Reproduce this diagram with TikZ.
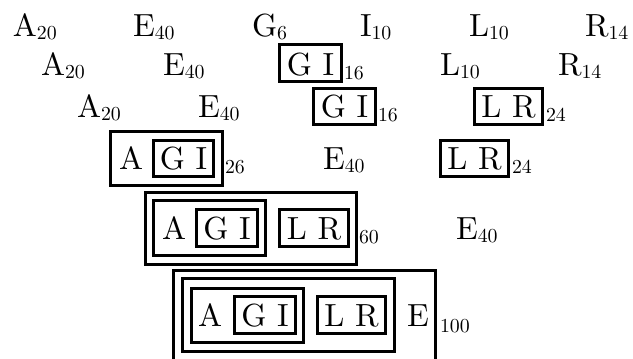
\documentclass[tikz,border=0pt]{standalone}
\usepackage{graphicx}
\newcommand\wsub[1]{\raisebox{-1.1pt}{\scalebox{0.62}{#1}}}
\tikzset{
  leaf/.style = {anchor=base west, inner sep=0pt, outer sep=0pt},
  pair/.style = {anchor=base, inner sep=0pt, outer sep=0pt},
  wt/.style = {anchor=base west, inner sep=0pt, outer sep=0pt},
  grp/.style = {line width=0.8pt}
}
\begin{document}
\begin{tikzpicture}[x=0.3125pt, y=-0.3125pt]
	\useasboundingbox (0,0) rectangle (633,358);
	\clip (0,0) rectangle (633,358);

	% Row 1
	\node[leaf] (a1) at (13,36) {A\wsub{20}};
	\node[leaf] (e1) at (133,36) {E\wsub{40}};
	\node[leaf] (g1) at (252,36) {G\wsub{6}};
	\node[leaf] (i1) at (360,36) {I\wsub{10}};
	\node[leaf] (l1) at (469,36) {L\wsub{10}};
	\node[leaf] (r1) at (585,36) {R\wsub{14}};

	% Row 2
	\node[leaf] (a2) at (41,75) {A\wsub{20}};
	\node[leaf] (e2) at (163,75) {E\wsub{40}};
	\draw[grp] (279.25,44.25) rectangle (341.75,81.75); % G I
	\node[pair] (gi2) at (310.5,75) {G I};
	\node[wt] (gi2w) at (344,76) {\wsub{16}};
	\node[leaf] (l2) at (440,75) {L\wsub{10}};
	\node[leaf] (r2) at (558,75) {R\wsub{14}};

	% Row 3
	\node[leaf] (a3) at (77,117) {A\wsub{20}};
	\node[leaf] (e3) at (198,117) {E\wsub{40}};
	\draw[grp] (313.25,88.25) rectangle (375.75,124.75); % G I
	\node[pair] (gi3) at (344.5,117) {G I};
	\node[wt] (gi3w) at (378,118) {\wsub{16}};
	\draw[grp] (474.25,88.25) rectangle (542.75,124.75); % L R
	\node[pair] (lr3) at (508.5,117) {L R};
	\node[wt] (lr3w) at (546,118) {\wsub{24}};

	% Row 4
	\draw[grp] (110.25,131.25) rectangle (222.75,185.75); % A G I
	\node[leaf] (a4) at (119,169) {A};
	\draw[grp] (153.25,140.25) rectangle (213.75,176.75); % G I
	\node[pair] (gi4) at (183.5,169) {G I};
	\node[wt] (agi4w) at (225,170) {\wsub{26}};
	\node[leaf] (e4) at (323,169) {E\wsub{40}};
	\draw[grp] (440.25,140.25) rectangle (508.75,176.75); % L R
	\node[pair] (lr4) at (474.5,169) {L R};
	\node[wt] (lr4w) at (512,170) {\wsub{24}};

	% Row 5
	\draw[grp] (145.25,192.25) rectangle (356.75,264.75); % A G I L R
	\draw[grp] (153.25,200.25) rectangle (265.75,255.75); % A G I
	\node[leaf] (a5) at (162,239) {A};
	\draw[grp] (196.25,209.25) rectangle (257.75,246.75); % G I
	\node[pair] (gi5) at (227,239) {G I};
	\draw[grp] (279.25,209.25) rectangle (348.75,246.75); % L R
	\node[pair] (lr5) at (314,239) {L R};
	\node[wt] (agilr5w) at (359,240) {\wsub{60}};
	\node[leaf] (e5) at (456,239) {E\wsub{40}};

	% Row 6
	\draw[grp] (173.25,270.25) rectangle (435.75,370); % all
	\draw[grp] (182.25,278.25) rectangle (394.75,351.75); % A G I L R
	\draw[grp] (191.25,288.25) rectangle (303.75,342.75); % A G I
	\node[leaf] (a6) at (198,326) {A};
	\draw[grp] (234.25,296.25) rectangle (295.75,333.75); % G I
	\node[pair] (gi6) at (265,326) {G I};
	\draw[grp] (317.25,296.25) rectangle (385.75,333.75); % L R
	\node[pair] (lr6) at (351.5,326) {L R};
	\node[leaf] (e6) at (407,326) {E};
	\node[wt] (all6w) at (440,329) {\wsub{100}};
\end{tikzpicture}
\end{document}
